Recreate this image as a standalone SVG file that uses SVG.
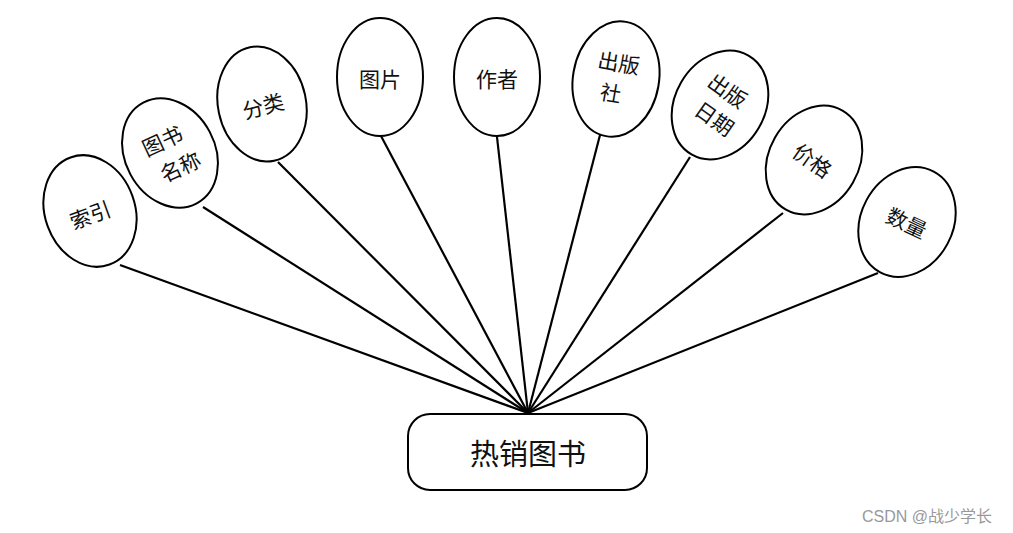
<svg xmlns="http://www.w3.org/2000/svg" width="1013" height="533" viewBox="0 0 1013 533">
<style>
.n{fill:#fff;stroke:#000;stroke-width:2}
.t{font-family:"Noto Sans CJK SC","Liberation Sans",sans-serif;font-size:21px;fill:#111;text-anchor:middle;dominant-baseline:central}
.c line{stroke:#000;stroke-width:2.2}
.wm{font-family:"Liberation Sans","Noto Sans CJK SC",sans-serif;font-size:16px;fill:#999}
</style>
<rect width="1013" height="533" fill="#fff"/>
<g class="c" id="connectors">
<line x1="528" y1="413" x2="120" y2="265"/>
<line x1="528" y1="413" x2="203" y2="207"/>
<line x1="528" y1="413" x2="278" y2="162"/>
<line x1="528" y1="413" x2="381" y2="136"/>
<line x1="528" y1="413" x2="497" y2="137"/>
<line x1="528" y1="413" x2="600" y2="135"/>
<line x1="528" y1="413" x2="690" y2="157"/>
<line x1="528" y1="413" x2="783" y2="213"/>
<line x1="528" y1="413" x2="878" y2="273"/>
</g>
<g id="n-suoyin">
<ellipse class="n" cx="90" cy="211" rx="45" ry="57" transform="rotate(-20 90 211)"/>
<text class="t" x="90" y="214" transform="rotate(-20 90 214)">索引</text>
</g>
<g id="n-tushumingcheng">
<ellipse class="n" cx="170" cy="153" rx="45" ry="57" transform="rotate(-28 170 153)"/>
<text class="t" x="162" y="140" transform="rotate(-25 162 140)">图书</text>
<text class="t" x="180" y="166" transform="rotate(-25 180 166)">名称</text>
</g>
<g id="n-fenlei">
<ellipse class="n" cx="262" cy="104" rx="44" ry="58" transform="rotate(-12 262 104)"/>
<text class="t" x="263" y="105" transform="rotate(-15 263 105)">分类</text>
</g>
<g id="n-tupian">
<ellipse class="n" cx="380" cy="77" rx="43" ry="59"/>
<text class="t" x="380" y="78">图片</text>
</g>
<g id="n-zuozhe">
<ellipse class="n" cx="497" cy="77" rx="43" ry="59"/>
<text class="t" x="497" y="78">作者</text>
</g>
<g id="n-chubanshe">
<ellipse class="n" cx="616" cy="79" rx="43" ry="58" transform="rotate(10 616 79)"/>
<text class="t" x="619" y="62" transform="rotate(10 619 62)">出版</text>
<text class="t" x="611" y="92" transform="rotate(10 611 92)">社</text>
</g>
<g id="n-chubanriqi">
<ellipse class="n" cx="720" cy="105" rx="45" ry="57" transform="rotate(30 720 105)"/>
<text class="t" x="728" y="90" transform="rotate(35 728 90)">出版</text>
<text class="t" x="715" y="118" transform="rotate(35 715 118)">日期</text>
</g>
<g id="n-jiage">
<ellipse class="n" cx="814" cy="160" rx="45" ry="57" transform="rotate(30 814 160)"/>
<text class="t" x="813" y="160" transform="rotate(35 813 160)">价格</text>
</g>
<g id="n-shuliang">
<ellipse class="n" cx="907" cy="222" rx="46" ry="57" transform="rotate(28 907 222)"/>
<text class="t" x="907" y="222" transform="rotate(25 907 222)">数量</text>
</g>
<g id="n-rexiaotushu">
<rect class="n" x="408" y="414" width="239" height="76" rx="22" ry="22"/>
<text class="t" x="528" y="452" style="font-size:29px">热销图书</text>
</g>
<text class="wm" x="862" y="522">CSDN @战少学长</text>
</svg>
